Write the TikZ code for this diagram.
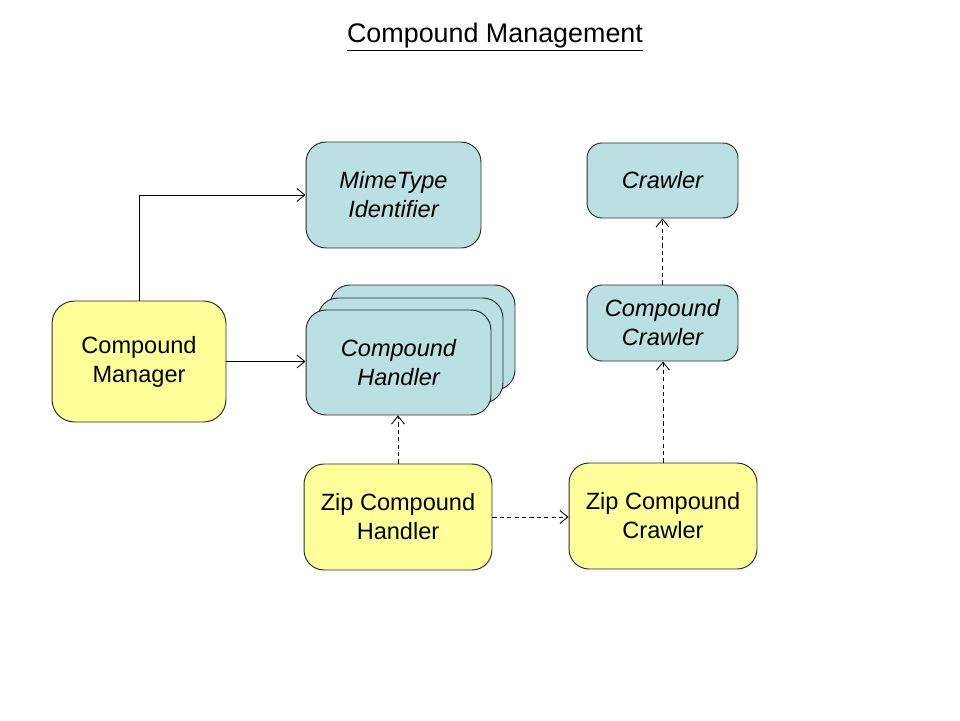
\documentclass[tikz,border=0pt]{standalone}
\usepackage{fontspec}
\setmainfont{Liberation Sans}
\usetikzlibrary{arrows.meta}
\definecolor{BOXBLUE}{HTML}{BAE0E3}
\definecolor{BOXYELLOW}{HTML}{FFFF99}
\definecolor{EDGE}{HTML}{2B2B2B}
\tikzset{
  box/.style={draw=EDGE, line width=0.55pt, align=center, inner sep=0pt,
    font=\fontsize{13.4}{16.5}\selectfont},
  yellowbox/.style={box, fill=BOXYELLOW},
  bluebox/.style={box, fill=BOXBLUE, font=\fontsize{13.4}{16.5}\selectfont\itshape},
  uses/.style={-{Straight Barb[length=1.6mm,width=2.6mm]}, line width=0.5pt},
  realizes/.style={uses, dash pattern=on 2.4pt off 1.8pt},
}

\begin{document}
\begin{tikzpicture}[x=0.02cm, y=-0.02cm]
    \useasboundingbox (0,0) rectangle (960,720);
    % Title
    \node[font=\fontsize{15.3}{18}\selectfont] (title) at (495,37) {\underline{Compound Management}};
    % Blue nodes
    \node[bluebox, minimum width=3.5cm, minimum height=2.12cm, rounded corners=0.4cm] (mime) at (393.5,195) {MimeType\\Identifier};
    \node[bluebox, minimum width=3.7cm, minimum height=2.1cm, rounded corners=0.4cm] (hndBack) at (422.5,337.5) {};
    \node[bluebox, minimum width=3.7cm, minimum height=2.1cm, rounded corners=0.4cm] (hndMid) at (410.5,350.5) {};
    \node[bluebox, minimum width=3.7cm, minimum height=2.1cm, rounded corners=0.4cm] (hnd) at (398.5,362.5) {Compound\\Handler};
    \node[bluebox, minimum width=3.02cm, minimum height=1.5cm, rounded corners=0.3cm] (crawler) at (662.5,180.5) {Crawler};
    \node[bluebox, minimum width=3.02cm, minimum height=1.52cm, rounded corners=0.3cm] (ccrawler) at (662.5,323) {Compound\\Crawler};
    % Yellow nodes
    \node[yellowbox, minimum width=3.48cm, minimum height=2.42cm, rounded corners=0.45cm] (mgr) at (139,361.5) {Compound\\Manager};
    \node[yellowbox, minimum width=3.76cm, minimum height=2.12cm, rounded corners=0.4cm] (ziph) at (398,517) {Zip Compound\\Handler};
    \node[yellowbox, minimum width=3.76cm, minimum height=2.12cm, rounded corners=0.4cm] (zipc) at (663,516) {Zip Compound\\Crawler};
    % Arrows
    \draw[uses] (mgr.north) |- (mime.west);
    \draw[uses] (mgr.east) -- (mgr.east -| hnd.west);
    \draw[realizes] (ziph.north) -- (ziph.north |- hnd.south);
    \draw[realizes] (ziph.east) -- (ziph.east -| zipc.west);
    \draw[realizes] (zipc.north) -- (zipc.north |- ccrawler.south);
    \draw[realizes] (ccrawler.north) -- (crawler.south);
\end{tikzpicture}
\end{document}
